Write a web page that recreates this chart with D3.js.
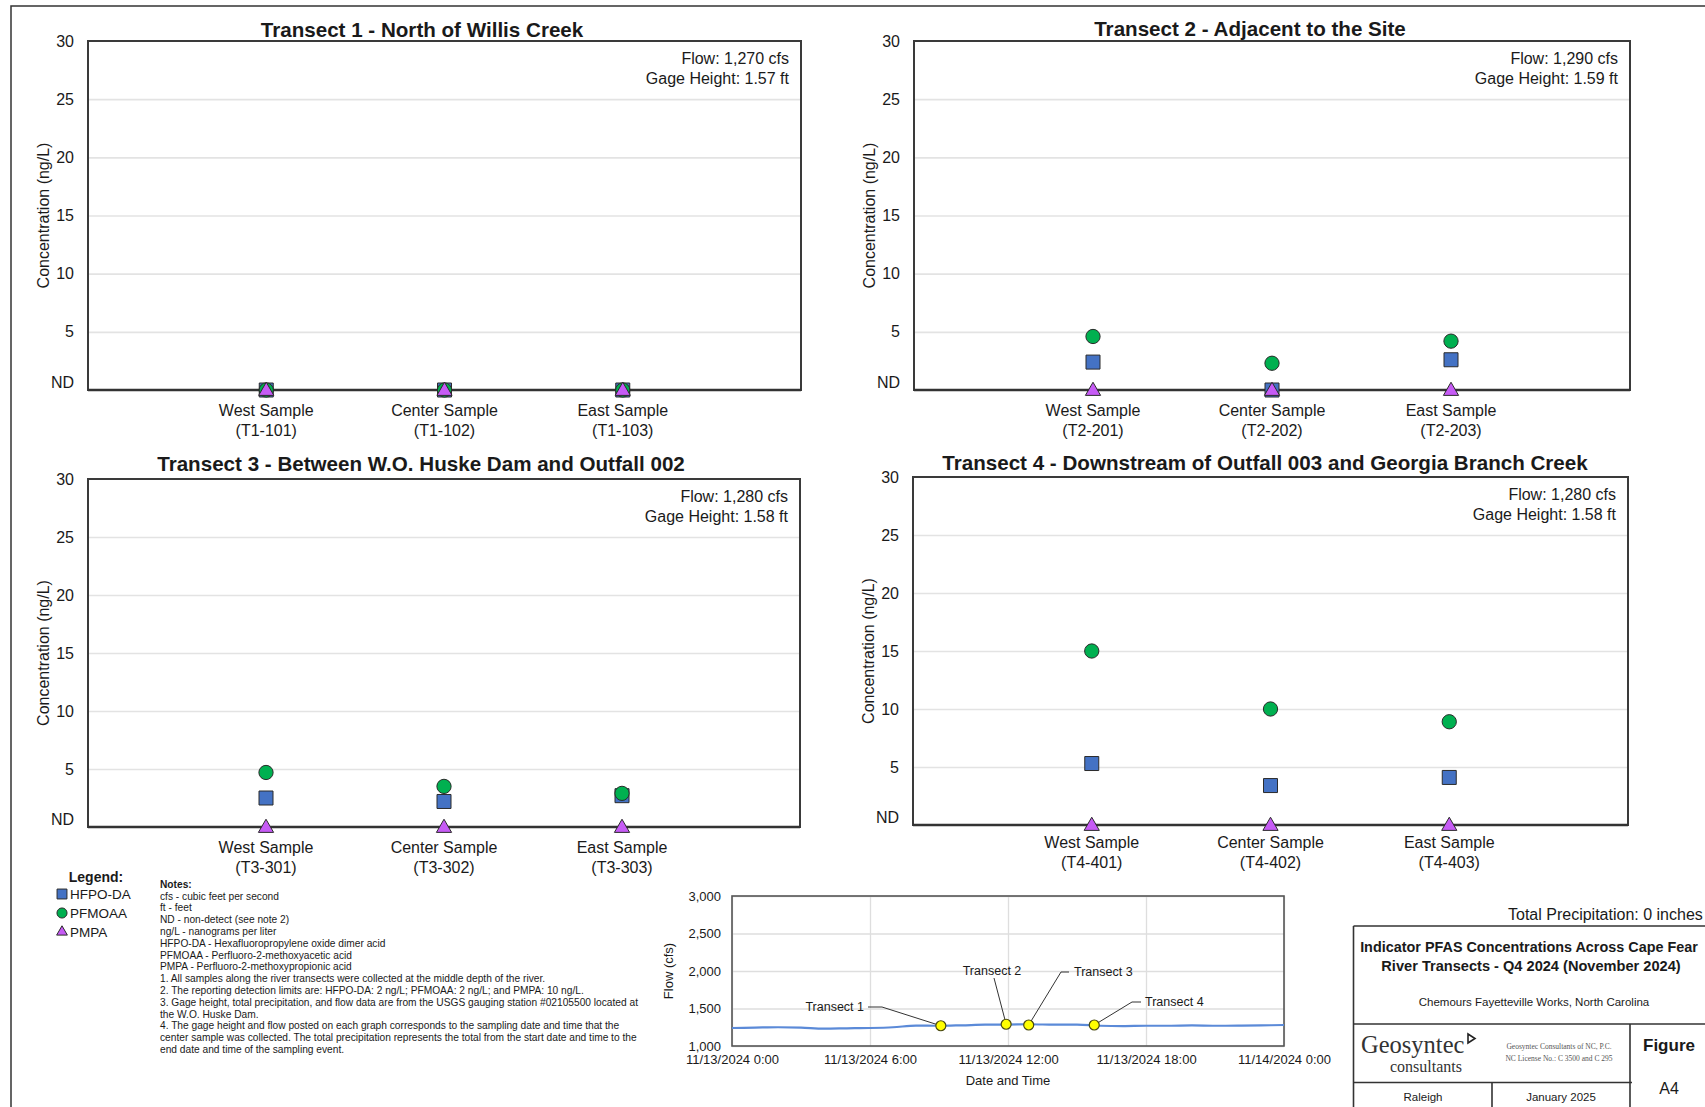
<!DOCTYPE html>
<html><head><meta charset="utf-8">
<script src="https://cdn.jsdelivr.net/npm/d3@7"></script>
<style>
body{margin:0;background:#fff}
svg{display:block}
text{font-family:"Liberation Sans",Arial,sans-serif;fill:#1a1a1a}
text.serif{font-family:"Liberation Serif","Times New Roman",serif}
</style>
</head><body>
<svg id="c" width="1705" height="1107"></svg>
<script>
// ---------------- DATA ----------------
const samples = ["West Sample", "Center Sample", "East Sample"];
const sampleIds = [
  ["T1-101", "T1-102", "T1-103"],
  ["T2-201", "T2-202", "T2-203"],
  ["T3-301", "T3-302", "T3-303"],
  ["T4-401", "T4-402", "T4-403"]
];
const transectTitles = [
  "Transect 1 - North of Willis Creek",
  "Transect 2 - Adjacent to the Site",
  "Transect 3 - Between W.O. Huske Dam and Outfall 002",
  "Transect 4 - Downstream of Outfall 003 and Georgia Branch Creek"
];
// 0 = ND (non-detect)
const hfpoda = [[0, 0, 0], [2.4, 0, 2.6], [2.5, 2.2, 2.7], [5.3, 3.4, 4.1]];
const pfmoaa = [[0, 0, 0], [4.6, 2.3, 4.2], [4.7, 3.5, 2.9], [15.0, 10.0, 8.9]];
const pmpa   = [[0, 0, 0], [0, 0, 0], [0, 0, 0], [0, 0, 0]];
const flowLabels = ["1,270", "1,290", "1,280", "1,280"];
const gageLabels = ["1.57", "1.59", "1.58", "1.58"];
const concTicks = [0, 5, 10, 15, 20, 25, 30];
const concTickLabels = ["ND", "5", "10", "15", "20", "25", "30"];

const flowHours  = [0, 1, 2, 3, 4, 5, 6, 7, 8, 9, 10, 11, 12, 13, 14, 15, 16, 17, 18, 19, 20, 21, 22, 23, 24];
const flowValues = [1240, 1245, 1250, 1245, 1232, 1236, 1240, 1250, 1272, 1270, 1276, 1284, 1286, 1290, 1284, 1286, 1270, 1266, 1270, 1270, 1274, 1270, 1271, 1275, 1280];
const transectNames = ["Transect 1", "Transect 2", "Transect 3", "Transect 4"];
const transectHours = [9.08, 11.92, 12.9, 15.75];
const transectFlows = [1270, 1290, 1280, 1280];
const flowXTicks = [0, 6, 12, 18, 24];
const flowXTickLabels = ["11/13/2024 0:00", "11/13/2024 6:00", "11/13/2024 12:00", "11/13/2024 18:00", "11/14/2024 0:00"];
const flowYTicks = [1000, 1500, 2000, 2500, 3000];

const legendNames = ["HFPO-DA", "PFMOAA", "PMPA"];
const notesLines = [
  "cfs - cubic feet per second",
  "ft - feet",
  "ND - non-detect (see note 2)",
  "ng/L - nanograms per liter",
  "HFPO-DA - Hexafluoropropylene oxide dimer acid",
  "PFMOAA - Perfluoro-2-methoxyacetic acid",
  "PMPA - Perfluoro-2-methoxypropionic acid",
  "1. All samples along the river transects were collected at the middle depth of the river.",
  "2. The reporting detection limits are: HFPO-DA: 2 ng/L; PFMOAA: 2 ng/L; and PMPA: 10 ng/L.",
  "3. Gage height, total precipitation, and flow data are from the USGS gauging station #02105500 located at",
  "the W.O. Huske Dam.",
  "4. The gage height and flow posted on each graph corresponds to the sampling date and time that the",
  "center sample was collected. The total precipitation represents the total from the start date and time to the",
  "end date and time of the sampling event."
];

// ---------------- STYLE ----------------
const COL = {hfpo: "#4472C4", pfm: "#00B050", pmpa: "#C65BF5", edge: "#2b2b2b"};
const seriesDefs = [
  {vals: hfpoda, type: d3.symbolSquare, size: 196, fill: COL.hfpo},
  {vals: pfmoaa, type: d3.symbolCircle, size: 160, fill: COL.pfm},
  {vals: pmpa, type: d3.symbolTriangle, size: 100, fill: COL.pmpa}
];

const svg = d3.select("#c");
svg.append("rect").attr("width", 1705).attr("height", 1107).attr("fill", "#fff");

// outer frame
svg.append("path").attr("d", "M11,1107 L11,6 L1705,6").attr("fill", "none").attr("stroke", "#333").attr("stroke-width", 1.5);

// ---------------- PANELS ----------------
const panels = [
  {l: 88, r: 801, t: 41, b: 390, tx: 422, ty: 29, lab: 20},
  {l: 914, r: 1630, t: 41, b: 390, tx: 1250, ty: 28, lab: 20},
  {l: 88, r: 800, t: 479, b: 827, tx: 421, ty: 463, lab: 20},
  {l: 913, r: 1628, t: 477, b: 825, tx: 1265, ty: 462, lab: 17}
];

panels.forEach((p, i) => {
  const g = svg.append("g");
  const x = d3.scalePoint().domain(samples).range([p.l, p.r]).padding(1);
  const y = d3.scaleLinear().domain([0, 30]).range([p.b, p.t]);

  // grid + y labels
  const ax = g.append("g").attr("transform", `translate(${p.l},0)`)
    .call(d3.axisLeft(y).tickValues(concTicks)
      .tickFormat((d, k) => concTickLabels[k]).tickSize(-(p.r - p.l)).tickPadding(14));
  ax.select(".domain").remove();
  ax.selectAll(".tick line").attr("stroke", "#e3e3e3").attr("stroke-width", 1.6)
    .attr("display", d => (d === 0 || d === 30) ? "none" : null);
  ax.selectAll(".tick text").attr("font-size", 16).attr("fill", "#1a1a1a")
    .attr("dy", d => d === 0 ? "-0.15em" : "0.32em");

  // frame
  g.append("rect").attr("x", p.l).attr("y", p.t).attr("width", p.r - p.l).attr("height", p.b - p.t)
    .attr("fill", "none").attr("stroke", "#3a3a3a").attr("stroke-width", 2);
  g.append("line").attr("x1", p.l).attr("x2", p.r).attr("y1", p.b).attr("y2", p.b)
    .attr("stroke", "#333").attr("stroke-width", 2.5);

  // title
  g.append("text").attr("x", p.tx).attr("y", p.ty).attr("text-anchor", "middle")
    .attr("dominant-baseline", "central").attr("font-size", 20.6).attr("font-weight", "bold")
    .text(transectTitles[i]);

  // y axis title
  g.append("text").attr("transform", `translate(${p.l - 45},${(p.t + p.b) / 2}) rotate(-90)`)
    .attr("text-anchor", "middle").attr("dominant-baseline", "central").attr("font-size", 16)
    .attr("fill", "#333").text("Concentration (ng/L)");

  // flow / gage
  g.append("text").attr("x", p.r - 12).attr("y", p.t + 17).attr("text-anchor", "end")
    .attr("dominant-baseline", "central").attr("font-size", 16).text(`Flow: ${flowLabels[i]} cfs`);
  g.append("text").attr("x", p.r - 12).attr("y", p.t + 37).attr("text-anchor", "end")
    .attr("dominant-baseline", "central").attr("font-size", 16).text(`Gage Height: ${gageLabels[i]} ft`);

  // category labels
  samples.forEach((s, k) => {
    g.append("text").attr("x", x(s)).attr("y", p.b + p.lab).attr("text-anchor", "middle")
      .attr("dominant-baseline", "central").attr("font-size", 16).text(s);
    g.append("text").attr("x", x(s)).attr("y", p.b + p.lab + 20).attr("text-anchor", "middle")
      .attr("dominant-baseline", "central").attr("font-size", 16).text(`(${sampleIds[i][k]})`);
  });

  // markers
  seriesDefs.forEach(sd => {
    g.selectAll(null).data(sd.vals[i]).join("path")
      .attr("d", d3.symbol().type(sd.type).size(sd.size))
      .attr("transform", (d, k) => `translate(${x(samples[k])},${y(d) + (sd.type === d3.symbolTriangle ? 1 : 0)})`)
      .attr("fill", sd.fill).attr("stroke", COL.edge).attr("stroke-width", 1);
  });
});

// ---------------- LEGEND ----------------
const lg = svg.append("g");
lg.append("text").attr("x", 96).attr("y", 877).attr("text-anchor", "middle").attr("dominant-baseline", "central")
  .attr("font-size", 14).attr("font-weight", "bold").text("Legend:");
const legendY = [894, 913, 932];
seriesDefs.forEach((sd, k) => {
  lg.append("path").attr("d", d3.symbol().type(sd.type).size(sd.size * 0.5))
    .attr("transform", `translate(62,${legendY[k]})`).attr("fill", sd.fill).attr("stroke", COL.edge).attr("stroke-width", 1);
  lg.append("text").attr("x", 70).attr("y", legendY[k]).attr("dominant-baseline", "central")
    .attr("font-size", 13.5).text(legendNames[k]);
});

// notes
const ng = svg.append("g");
ng.append("text").attr("x", 160).attr("y", 884).attr("dominant-baseline", "central")
  .attr("font-size", 10.2).attr("font-weight", "bold").text("Notes:");
notesLines.forEach((t, k) => {
  ng.append("text").attr("x", 160).attr("y", 896 + k * 11.8).attr("dominant-baseline", "central")
    .attr("font-size", 10.2).text(t);
});

// ---------------- FLOW CHART ----------------
const fc = {l: 732, r: 1284, t: 896, b: 1046};
const fx = d3.scaleLinear().domain([0, 24]).range([fc.l, fc.r]);
const fy = d3.scaleLinear().domain([1000, 3000]).range([fc.b, fc.t]);
const fg = svg.append("g");

const fxa = fg.append("g").attr("transform", `translate(0,${fc.b})`)
  .call(d3.axisBottom(fx).tickValues(flowXTicks).tickFormat((d, k) => flowXTickLabels[k])
    .tickSize(-(fc.b - fc.t)).tickPadding(9));
fxa.select(".domain").remove();
fxa.selectAll(".tick line").attr("stroke", "#dedede").attr("stroke-width", 1.3);
fxa.selectAll(".tick text").attr("font-size", 13).attr("fill", "#1a1a1a");

const fya = fg.append("g").attr("transform", `translate(${fc.l},0)`)
  .call(d3.axisLeft(fy).tickValues(flowYTicks).tickFormat(d3.format(",")).tickSize(-(fc.r - fc.l)).tickPadding(11));
fya.select(".domain").remove();
fya.selectAll(".tick line").attr("stroke", "#dedede").attr("stroke-width", 1.3);
fya.selectAll(".tick text").attr("font-size", 13).attr("fill", "#1a1a1a");

fg.append("rect").attr("x", fc.l).attr("y", fc.t).attr("width", fc.r - fc.l).attr("height", fc.b - fc.t)
  .attr("fill", "none").attr("stroke", "#555").attr("stroke-width", 1.6);

fg.append("text").attr("x", (fc.l + fc.r) / 2).attr("y", 1080).attr("text-anchor", "middle")
  .attr("dominant-baseline", "central").attr("font-size", 13).text("Date and Time");
fg.append("text").attr("transform", `translate(668,${(fc.t + fc.b) / 2}) rotate(-90)`).attr("text-anchor", "middle")
  .attr("dominant-baseline", "central").attr("font-size", 13).text("Flow (cfs)");

fg.append("path").datum(flowHours.map((h, k) => [h, flowValues[k]]))
  .attr("d", d3.line().x(d => fx(d[0])).y(d => fy(d[1])).curve(d3.curveMonotoneX))
  .attr("fill", "none").attr("stroke", "#5b8ad8").attr("stroke-width", 2.2);

// annotation leaders
const annot = [
  {tx: 864, ty: 1007, anchor: "end", pts: [[868, 1007], [882, 1007]]},
  {tx: 992, ty: 971, anchor: "middle", pts: [[994, 978]]},
  {tx: 1074, ty: 972, anchor: "start", pts: [[1069, 972], [1061, 972]]},
  {tx: 1145, ty: 1002, anchor: "start", pts: [[1141, 1002], [1132, 1002]]}
];
transectNames.forEach((n, k) => {
  const mx = fx(transectHours[k]), my = fy(transectFlows[k]);
  const a = annot[k];
  const pts = a.pts.concat([[mx, my]]);
  fg.append("path").attr("d", d3.line()(pts)).attr("fill", "none").attr("stroke", "#333").attr("stroke-width", 1);
  fg.append("text").attr("x", a.tx).attr("y", a.ty).attr("text-anchor", a.anchor).attr("dominant-baseline", "central")
    .attr("font-size", 12.5).text(n);
});
fg.selectAll(null).data(transectHours).join("circle")
  .attr("cx", d => fx(d)).attr("cy", (d, k) => fy(transectFlows[k])).attr("r", 5)
  .attr("fill", "#ffff00").attr("stroke", "#4a4a10").attr("stroke-width", 1.2);

// ---------------- TITLE BLOCK ----------------
const tb = svg.append("g");
tb.append("text").attr("x", 1508).attr("y", 914).attr("dominant-baseline", "central").attr("font-size", 16)
  .text("Total Precipitation: 0 inches");
const ln = (x1, y1, x2, y2) => tb.append("line").attr("x1", x1).attr("y1", y1).attr("x2", x2).attr("y2", y2)
  .attr("stroke", "#333").attr("stroke-width", 1.6);
ln(1353.5, 926, 1710, 926);
ln(1353.5, 926, 1353.5, 1107);
ln(1353.5, 1024, 1710, 1024);
ln(1630, 1024, 1630, 1107);
ln(1353.5, 1082.5, 1632, 1082.5);
ln(1492, 1082.5, 1492, 1107);
tb.append("text").attr("x", 1529).attr("y", 947).attr("text-anchor", "middle").attr("dominant-baseline", "central")
  .attr("font-size", 14.4).attr("font-weight", "bold").text("Indicator PFAS Concentrations Across Cape Fear");
tb.append("text").attr("x", 1531).attr("y", 966).attr("text-anchor", "middle").attr("dominant-baseline", "central")
  .attr("font-size", 14.6).attr("font-weight", "bold").text("River Transects - Q4 2024 (November 2024)");
tb.append("text").attr("x", 1534).attr("y", 1002).attr("text-anchor", "middle").attr("dominant-baseline", "central")
  .attr("font-size", 11.5).text("Chemours Fayetteville Works, North Carolina");
tb.append("text").attr("class", "serif").attr("x", 1361).attr("y", 1044).attr("dominant-baseline", "central")
  .attr("font-size", 24.5).style("fill", "#333").text("Geosyntec");
tb.append("path").attr("d", "M1468,1034 L1475,1038.5 L1468,1043 Z").attr("fill", "none").attr("stroke", "#222").attr("stroke-width", 1.6);
tb.append("text").attr("class", "serif").attr("x", 1426).attr("y", 1066).attr("text-anchor", "middle").attr("dominant-baseline", "central")
  .attr("font-size", 16).style("fill", "#333").text("consultants");
tb.append("text").attr("class", "serif").attr("x", 1559).attr("y", 1046).attr("text-anchor", "middle").attr("dominant-baseline", "central")
  .attr("font-size", 7.5).style("fill", "#555").text("Geosyntec Consultants of NC, P.C.");
tb.append("text").attr("class", "serif").attr("x", 1559).attr("y", 1058).attr("text-anchor", "middle").attr("dominant-baseline", "central")
  .attr("font-size", 7.5).style("fill", "#555").text("NC License No.: C 3500 and C 295");
tb.append("text").attr("x", 1669).attr("y", 1045).attr("text-anchor", "middle").attr("dominant-baseline", "central")
  .attr("font-size", 17).attr("font-weight", "bold").text("Figure");
tb.append("text").attr("x", 1669).attr("y", 1088).attr("text-anchor", "middle").attr("dominant-baseline", "central")
  .attr("font-size", 16).text("A4");
tb.append("text").attr("x", 1423).attr("y", 1097).attr("text-anchor", "middle").attr("dominant-baseline", "central")
  .attr("font-size", 11.5).text("Raleigh");
tb.append("text").attr("x", 1561).attr("y", 1097).attr("text-anchor", "middle").attr("dominant-baseline", "central")
  .attr("font-size", 11.5).text("January 2025");
</script>
</body></html>
